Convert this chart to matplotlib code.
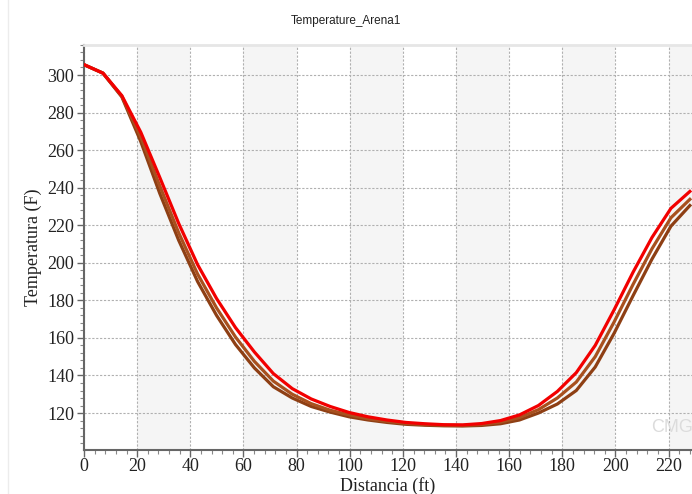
import numpy as np
import matplotlib
matplotlib.use("Agg")
import matplotlib.pyplot as plt
from matplotlib.ticker import MultipleLocator
from matplotlib.lines import Line2D

# ---- data ----
distance = [0.0, 7.125, 14.25, 21.375, 28.5, 35.625, 42.75, 49.875, 57.0, 64.125,
            71.25, 78.375, 85.5, 92.625, 99.75, 106.875, 114.0, 121.125, 128.25,
            135.375, 142.5, 149.625, 156.75, 163.875, 171.0, 178.125, 185.25,
            192.375, 199.5, 206.625, 213.75, 220.875, 228.0]

temp_red = [305.5, 301.0, 289.0, 269.5, 245.5, 221.0, 199.0, 181.0, 165.5, 152.5,
            141.0, 133.0, 127.5, 123.5, 120.3, 118.0, 116.3, 115.0, 114.3,
            113.8, 113.7, 114.4, 116.0, 119.0, 124.0, 131.5, 141.5,
            156.0, 175.0, 195.0, 213.5, 229.0, 238.0]

temp_brown = [305.5, 301.0, 288.7, 267.0, 241.0, 216.0, 194.0, 176.0, 160.5, 147.5,
              137.0, 130.0, 125.0, 121.5, 119.0, 117.0, 115.6, 114.5, 113.9,
              113.5, 113.4, 113.9, 115.2, 117.6, 121.8, 128.0, 136.5,
              150.0, 168.5, 188.5, 207.5, 224.0, 233.8]

temp_dark = [305.5, 301.0, 288.3, 264.5, 237.0, 212.0, 190.0, 172.0, 156.5, 144.0,
             134.0, 128.0, 123.5, 120.5, 118.0, 116.3, 115.0, 114.0, 113.5,
             113.2, 113.1, 113.4, 114.3, 116.3, 120.0, 124.8, 132.0,
             144.5, 162.5, 182.5, 202.0, 219.5, 230.5]

x_ticks = [0, 20, 40, 60, 80, 100, 120, 140, 160, 180, 200, 220]
y_ticks = [120, 140, 160, 180, 200, 220, 240, 260, 280, 300]
shaded_bands = [(20, 40), (60, 80), (100, 120), (140, 160), (180, 200), (220, 240)]

title = "Temperature_Arena1"
xlabel = "Distancia (ft)"
ylabel = "Temperatura (F)"

# ---- figure ----
fig = plt.figure(figsize=(6.92, 4.94), dpi=100)
ax = fig.add_axes([0.1214, 0.089, 0.8786, 0.82])

for a, b in shaded_bands:
    ax.axvspan(a, b, color="#f5f5f5", zorder=0, lw=0)

ax.grid(True, which="major", color="#b0b0b0", linestyle=(0, (2, 1.5)), linewidth=0.8, zorder=1)

ax.plot(distance, temp_dark, color="#8e3f14", lw=2.3, zorder=3, solid_joinstyle="round")
ax.plot(distance, temp_brown, color="#a8501e", lw=2.3, zorder=4, solid_joinstyle="round")
ax.plot(distance, temp_red, color="#f20000", lw=2.3, zorder=5, solid_joinstyle="round")

ax.set_xlim(0, 228.8)
ax.set_ylim(100.3, 316)
ax.set_xticks(x_ticks)
ax.set_yticks(y_ticks)
ax.xaxis.set_minor_locator(MultipleLocator(4))
ax.yaxis.set_minor_locator(MultipleLocator(4))

serif = ["Liberation Serif", "DejaVu Serif"]
ax.tick_params(axis="both", which="major", direction="out", length=5, width=1,
               color="#666666", labelsize=13, pad=2)
ax.tick_params(axis="x", which="major", pad=1)
ax.tick_params(axis="both", which="minor", direction="out", length=3, width=0.8,
               color="#888888")
for lab in ax.get_xticklabels() + ax.get_yticklabels():
    lab.set_fontfamily(serif)
    lab.set_color("#222222")

ax.spines["right"].set_visible(False)
ax.spines["top"].set_color("#e6e6e6")
ax.spines["top"].set_linewidth(2)
for side in ["left", "bottom"]:
    ax.spines[side].set_color("#666666")
    ax.spines[side].set_linewidth(1.5)

ax.set_xlabel(xlabel, fontfamily=serif, fontsize=13, color="#222222", labelpad=1)
ax.set_ylabel(ylabel, fontfamily=serif, fontsize=13, color="#222222", labelpad=4)

fig.text(0.5, 0.957, title, ha="center", va="center",
         fontfamily=["Liberation Sans", "DejaVu Sans"], fontsize=8.5, color="#222222")

# faint panel border on the left
fig.add_artist(Line2D([8 / 692, 8 / 692], [0, 1], transform=fig.transFigure,
                      color="#ececec", lw=1))

# watermark
ax.text(0.932, 0.055, "CMG", transform=ax.transAxes, fontsize=13,
        fontfamily=["Liberation Sans", "DejaVu Sans"], color="#dcdcdc",
        ha="left", va="center", zorder=2)

fig.savefig("out.png", dpi=100)
